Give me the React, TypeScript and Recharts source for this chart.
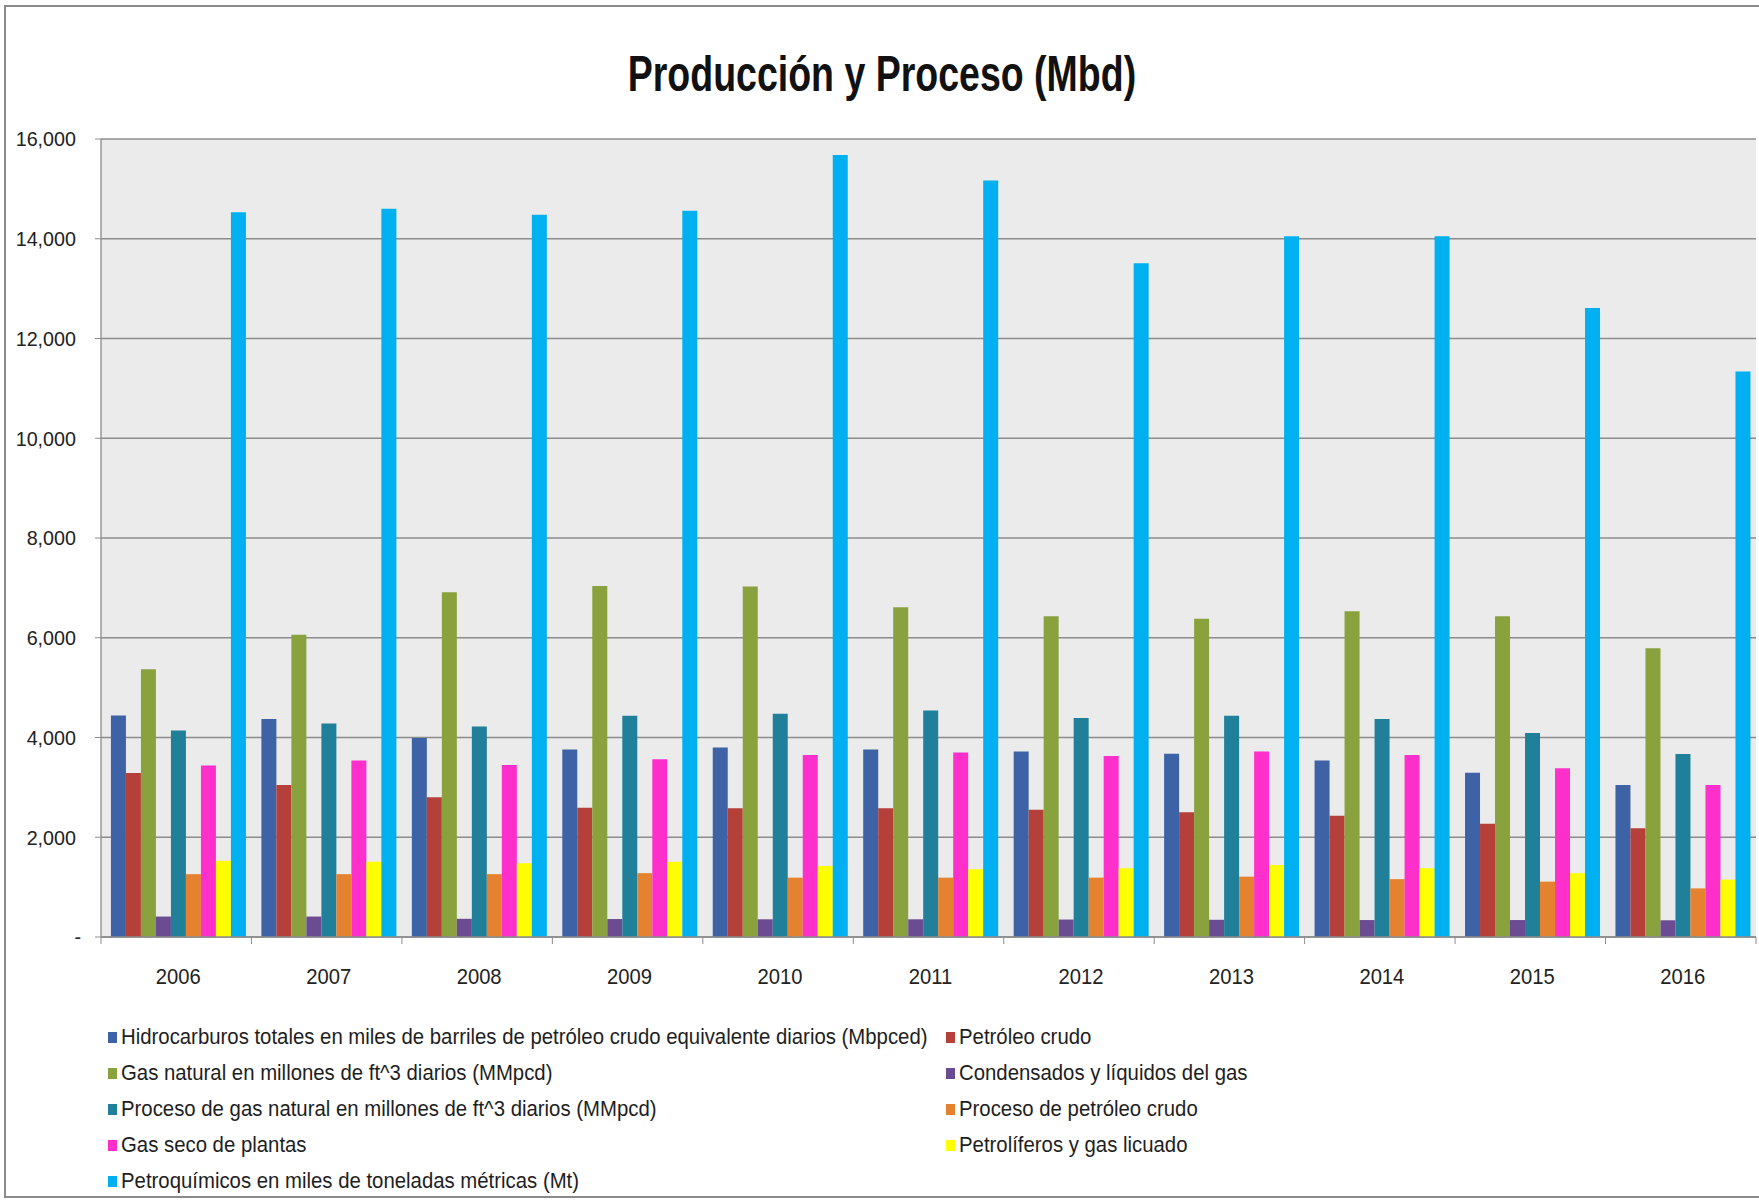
import { BarChart, Bar, XAxis, YAxis, CartesianGrid, Legend } from 'recharts';

// Producción y Proceso, 2006-2016 (Mbd)
const years = ['2006', '2007', '2008', '2009', '2010', '2011', '2012', '2013', '2014', '2015', '2016'];

const hidrocarburos = [4440, 4370, 3990, 3760, 3800, 3760, 3720, 3675, 3540, 3295, 3050];
const petroleoCrudo = [3290, 3050, 2800, 2590, 2580, 2580, 2550, 2500, 2430, 2270, 2180];
const gasNatural = [5370, 6060, 6910, 7040, 7030, 6610, 6430, 6380, 6530, 6430, 5790];
const condensados = [410, 410, 365, 360, 355, 355, 350, 345, 340, 340, 335];
const procesoGas = [4140, 4280, 4220, 4435, 4475, 4540, 4390, 4435, 4370, 4090, 3670];
const procesoCrudo = [1260, 1260, 1260, 1280, 1190, 1190, 1190, 1210, 1160, 1110, 975];
const gasSeco = [3440, 3540, 3450, 3565, 3650, 3700, 3630, 3720, 3650, 3385, 3050];
const petroliferos = [1530, 1510, 1480, 1510, 1425, 1360, 1380, 1445, 1380, 1280, 1150];
const petroquimicos = [14530, 14600, 14480, 14560, 15680, 15170, 13510, 14050, 14050, 12610, 11340];

const yTicks = [0, 2000, 4000, 6000, 8000, 10000, 12000, 14000, 16000];

const series = [
  { key: 'hidrocarburos', color: '#3e62a6', values: hidrocarburos,
    name: 'Hidrocarburos totales en miles de barriles de petróleo crudo equivalente diarios (Mbpced)' },
  { key: 'petroleoCrudo', color: '#b5403a', values: petroleoCrudo, name: 'Petróleo crudo' },
  { key: 'gasNatural', color: '#8aa23e', values: gasNatural, name: 'Gas natural en millones de ft^3 diarios (MMpcd)' },
  { key: 'condensados', color: '#6b4c93', values: condensados, name: 'Condensados y líquidos del gas' },
  { key: 'procesoGas', color: '#20809a', values: procesoGas,
    name: 'Proceso de gas natural en millones de ft^3 diarios (MMpcd)' },
  { key: 'procesoCrudo', color: '#e5822f', values: procesoCrudo, name: 'Proceso de petróleo crudo' },
  { key: 'gasSeco', color: '#ff2fcc', values: gasSeco, name: 'Gas seco de plantas' },
  { key: 'petroliferos', color: '#ffff00', values: petroliferos, name: 'Petrolíferos y gas licuado' },
  { key: 'petroquimicos', color: '#00b0f0', values: petroquimicos,
    name: 'Petroquímicos en miles de toneladas métricas (Mt)' },
];

const data = years.map((year, i) => {
  const row: Record<string, string | number> = { year };
  series.forEach((s) => {
    row[s.key] = s.values[i];
  });
  return row;
});

const W = 1759;
const H = 1203;
const PLOT_LEFT = 101;
const PLOT_RIGHT = 1756;
const PLOT_TOP = 139;
const PLOT_BOTTOM = 937;
const BAND = (PLOT_RIGHT - PLOT_LEFT) / years.length;

// no condensed face installed, so a regular face is squeezed horizontally
const FONT = "'Liberation Sans', Arial, sans-serif";
const AXIS_SQUEEZE = 0.94;
const AXIS_GRAY = '#8c8c8c';

function YTick({ x, y, payload }: any) {
  const v = payload.value as number;
  const label = v === 0 ? '-' : v.toLocaleString('en-US');
  const tx = v === 0 ? x - 12 : x - 17;
  return (
    <text
      transform={`translate(${tx} ${y}) scale(${AXIS_SQUEEZE} 1)`}
      dy="0.35em"
      textAnchor="end"
      fontSize={21}
      fill="#222"
      fontFamily={FONT}
    >
      {label}
    </text>
  );
}

function XTick({ x, payload, index }: any) {
  const left = x - BAND / 2;
  return (
    <g>
      <line x1={left} y1={PLOT_BOTTOM} x2={left} y2={PLOT_BOTTOM + 7} stroke={AXIS_GRAY} />
      {index === years.length - 1 && (
        <line x1={x + BAND / 2} y1={PLOT_BOTTOM} x2={x + BAND / 2} y2={PLOT_BOTTOM + 7} stroke={AXIS_GRAY} />
      )}
      <text
        transform={`translate(${x + 2} ${PLOT_BOTTOM + 47}) scale(${AXIS_SQUEEZE} 1)`}
        textAnchor="middle"
        fontSize={21.5}
        fill="#222"
        fontFamily={FONT}
      >
        {payload.value}
      </text>
    </g>
  );
}

function LegendBox() {
  return (
    <div
      style={{
        display: 'grid',
        gridTemplateColumns: '838px auto',
        paddingLeft: 108,
        fontFamily: FONT,
        fontSize: 22,
        color: '#1e1e1e',
      }}
    >
      {series.map((s) => (
        <div key={s.key} style={{ display: 'flex', alignItems: 'center', height: 36, whiteSpace: 'nowrap' }}>
          <span style={{ width: 9, height: 11, background: s.color, marginRight: 4, flex: 'none' }} />
          <span style={{ display: 'inline-block', transform: 'scaleX(0.925)', transformOrigin: 'left center' }}>
            {s.name}
          </span>
        </div>
      ))}
    </div>
  );
}

export default function App() {
  return (
    <div style={{ position: 'absolute', left: 0, top: 0, width: W, height: H, overflow: 'hidden', background: '#fff' }}>
      <div
        style={{
          position: 'absolute',
          left: 4,
          top: 5,
          width: W,
          height: 1193,
          borderTop: '2px solid #8a8a8a',
          borderLeft: '2px solid #8a8a8a',
          borderBottom: '2px solid #8a8a8a',
          boxSizing: 'border-box',
        }}
      />
      <div
        style={{
          position: 'absolute',
          left: 0,
          width: 1764,
          top: 45,
          textAlign: 'center',
          fontFamily: FONT,
          fontWeight: 'bold',
          fontSize: 50,
          lineHeight: 'normal',
          color: '#111',
        }}
      >
        <span style={{ display: 'inline-block', transform: 'scaleX(0.75)' }}>Producción y Proceso (Mbd)</span>
      </div>
      <div style={{ position: 'absolute', left: 0, top: 0 }}>
        <BarChart
          width={W}
          height={H}
          data={data}
          margin={{ top: PLOT_TOP, right: W - PLOT_RIGHT, left: 0, bottom: H - PLOT_BOTTOM - 60 }}
          barCategoryGap="6.6%"
          barGap={0}
        >
          <CartesianGrid vertical={false} stroke={AXIS_GRAY} strokeWidth={1.3} fill="#ebebeb" />
          <XAxis
            dataKey="year"
            height={60}
            tick={<XTick />}
            tickLine={false}
            tickSize={0}
            axisLine={{ stroke: AXIS_GRAY, strokeWidth: 1.3 }}
            interval={0}
          />
          <YAxis
            width={PLOT_LEFT}
            domain={[0, 16000]}
            ticks={yTicks}
            tick={<YTick />}
            tickLine={{ stroke: AXIS_GRAY }}
            tickSize={6}
            axisLine={{ stroke: AXIS_GRAY, strokeWidth: 1.3 }}
          />
          <Legend
            layout="vertical"
            align="center"
            verticalAlign="middle"
            content={() => <LegendBox />}
            wrapperStyle={{ left: 0, top: 1019, width: W }}
          />
          {series.map((s) => (
            <Bar key={s.key} dataKey={s.key} name={s.name} fill={s.color} isAnimationActive={false} />
          ))}
        </BarChart>
      </div>
    </div>
  );
}
